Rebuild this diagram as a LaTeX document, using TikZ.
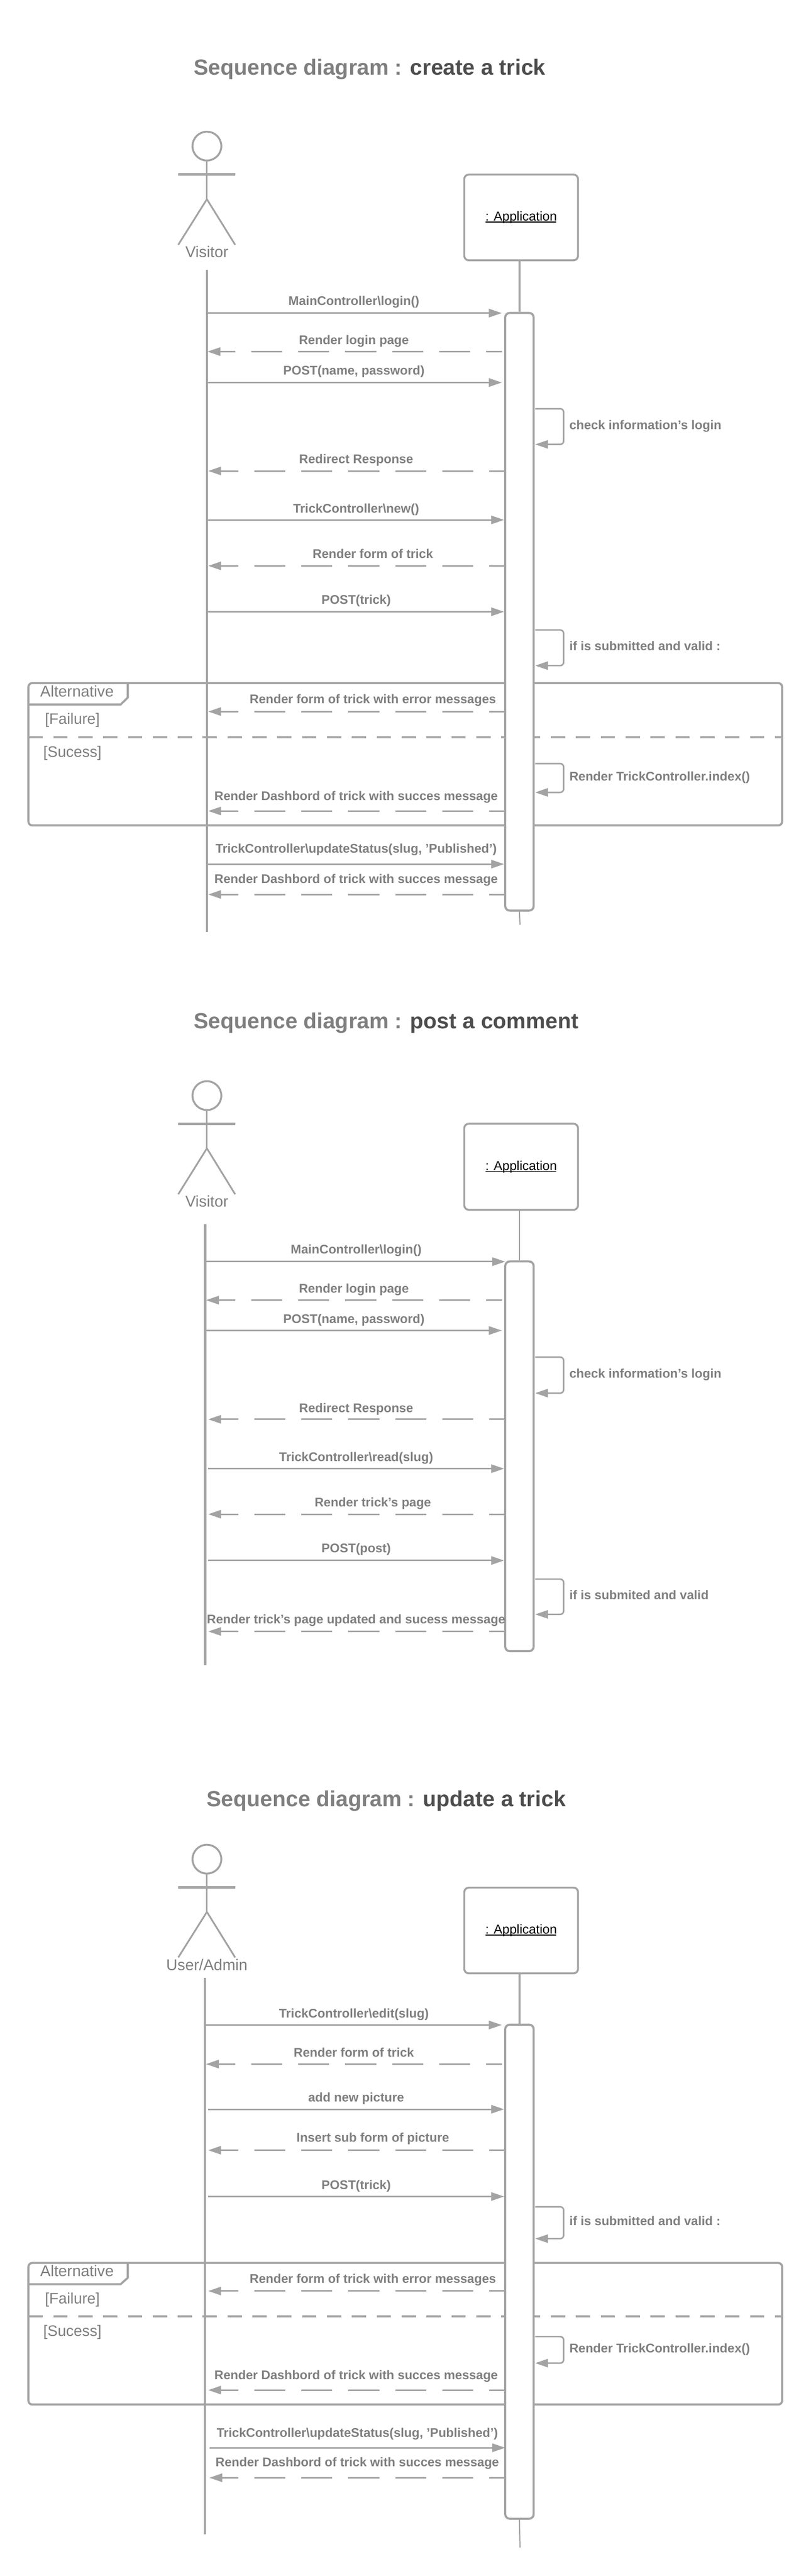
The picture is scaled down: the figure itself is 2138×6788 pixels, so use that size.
\documentclass[tikz,border=0pt]{standalone}
\usepackage{fontspec}
\setmainfont{Liberation Sans}
\usetikzlibrary{arrows.meta}
\definecolor{ln}{HTML}{A3A3A3}
\definecolor{tx}{HTML}{7F7F7F}
\definecolor{tx2}{HTML}{4D4D4D}
\newcommand\appname{\raisebox{2pt}{\makebox[0pt][l]{\rule[-4.5pt]{186pt}{2.5pt}}: Application}}
\tikzset{
  base/.style={draw=ln,line width=4pt},
  arr/.style={base,-{Triangle[length=34pt,width=22pt]}},
  call/.style={arr},
  reply/.style={arr,dash pattern=on 82pt off 42pt,dash phase=41pt},
  selfcall/.style={arr,rounded corners=9pt},
  lifeline/.style={draw=ln,line width=5.5pt},
  thinlife/.style={draw=ln,line width=3pt},
  limb/.style={draw=ln,line width=4.5pt},
  arms/.style={draw=ln,line width=7pt},
  head/.style={circle,draw=ln,line width=5pt,fill=white,minimum size=76pt,inner sep=0pt},
  appbox/.style={rectangle,rounded corners=12pt,draw=ln,line width=5pt,fill=white,minimum width=300pt,minimum height=226pt,inner sep=0pt,text=black,font=\fontsize{34}{38}\selectfont},
  activation/.style={rectangle,rounded corners=12pt,draw=ln,line width=5.5pt,fill=white,minimum width=75pt,inner sep=0pt},
  msgtext/.style={inner sep=0pt,yshift=-3pt,text=tx,font=\fontsize{33.2}{38}\selectfont\bfseries,execute at begin node={\vphantom{Ag}}},
  plaintext/.style={inner sep=0pt,yshift=-3pt,text=tx,font=\fontsize{41}{45}\selectfont,execute at begin node={\vphantom{Ag}}},
  titletext/.style={inner sep=0pt,yshift=-3pt,anchor=west,text=tx,font=\fontsize{57.8}{62}\selectfont\bfseries},
  framebox/.style={draw=ln,line width=5.5pt,rounded corners=10pt},
  tabline/.style={draw=ln,line width=5.5pt},
  divider/.style={draw=ln,line width=5.5pt,dash pattern=on 37.6pt off 28pt},
}
% name, y, x from, x to, style, label x, label y, text
\newcommand\msgline[8]{%
  \coordinate (#1a) at (#3,#2);
  \coordinate (#1b) at (#4,#2);
  \draw[#5] (#1a) -- (#1b);
  \node[msgtext] (#1t) at (#6,#7) {#8};
}
% name, y top, y bottom, label y, text
\newcommand\selfline[5]{%
  \coordinate (#1a) at (1411,#2);
  \coordinate (#1m) at (1486,#2);
  \coordinate (#1b) at (1411,#3);
  \draw[selfcall] (#1a) -- (#1m) |- (#1b);
  \node[msgtext,anchor=west] (#1t) at (1501,#4) {#5};
}
% prefix, head y, arms y, hip y, foot y, label y, label
\newcommand\actorfig[7]{%
  \coordinate (#1la) at (470,#3);
  \coordinate (#1ra) at (620,#3);
  \coordinate (#1hip) at (545.5,#4);
  \coordinate (#1lf) at (470,#5);
  \coordinate (#1rf) at (620,#5);
  \node[head] (#1head) at (545.5,#2) {};
  \draw[limb] (#1head.south) -- (#1hip);
  \draw[limb] (#1lf) -- (#1hip) -- (#1rf);
  \draw[arms] (#1la) -- (#1ra);
  \node[plaintext] (#1name) at (545.5,#6) {#7};
}
% prefix, top y, chamfer y, tab bottom y, divider y, bottom y, alt y, fail y
\newcommand\altframe[8]{%
  \node[inner sep=0pt,minimum size=0pt] (#1tl) at (75,#2) {};
  \node[inner sep=0pt,minimum size=0pt] (#1br) at (2062,#6) {};
  \coordinate (#1t1) at (337,#2);
  \coordinate (#1t2) at (337,#3);
  \coordinate (#1t3) at (318,#4);
  \coordinate (#1t4) at (75,#4);
  \coordinate (#1d1) at (75,#5);
  \coordinate (#1d2) at (2062,#5);
  \draw[framebox] (#1tl.center) rectangle (#1br.center);
  \draw[tabline] (#1t1) -- (#1t2) -- (#1t3) -- (#1t4);
  \draw[divider] (#1d1) -- (#1d2);
  \node[plaintext] (#1alt) at (203,#7) {Alternative};
  \node[plaintext,font=\fontsize{40}{44}\selectfont] (#1fail) at (191,#8) {[Failure]};
}
\begin{document}
\begin{tikzpicture}[x=1pt,y=-1pt]
\useasboundingbox (0,0) rectangle (2138,6788);
\fill[white] (0,0) rectangle (2138,6788);

%% ---------- diagram 1
\node[titletext] (t1) at (511,180) {Sequence diagram : \textcolor{tx2}{create a trick}};
\altframe{f1}{1800}{1838}{1856.5}{1942.5}{2175}{1823}{1895}
\node[plaintext,font=\fontsize{40}{44}\selectfont] (f1suc) at (191,1981) {[Sucess]};
\actorfig{a1}{385}{459}{525}{645}{665}{Visitor}
\node[appbox] (app1) at (1374,573) {\appname};
\coordinate (v1top) at (545.5,712);
\coordinate (v1bot) at (545.5,2456);
\draw[lifeline] (v1top) -- (v1bot);
\coordinate (l1end) at (1371,2437);
\node[activation,minimum height=1575pt] (act1) at (1369.5,1612) {};
\draw[lifeline] (app1.south -| act1.north) -- (act1.north);
\draw[thinlife] (act1.south) -- (l1end);
\msgline{m11}{825}{545.5}{1323}{call}{933}{793}{MainController\textbackslash login()}
\msgline{m12}{926.5}{1323}{547}{reply}{933}{896}{Render login page}
\msgline{m13}{1008}{545.5}{1323}{call}{933}{976}{POST(name, password)}
\selfline{s11}{1077}{1171}{1120}{check information's login}
\msgline{m14}{1241}{1331}{549}{reply}{939}{1209}{Redirect Response}
\msgline{m15}{1370}{548}{1329}{call}{939}{1340}{TrickController\textbackslash new()}
\msgline{m16}{1491}{1331}{549}{reply}{983}{1459}{Render form of trick}
\msgline{m17}{1612}{548}{1329}{call}{939}{1580}{POST(trick)}
\selfline{s12}{1660}{1754}{1703}{if is submitted and valid :}
\msgline{m18}{1875}{1331}{549}{reply}{983}{1842}{Render form of trick with error messages}
\selfline{s13}{2012}{2088}{2046}{Render TrickController.index()}
\msgline{m19}{2137}{1331}{549}{reply}{939}{2097}{Render Dashbord of trick with succes message}
\msgline{m110}{2277}{545.5}{1329}{call}{939}{2236}{TrickController\textbackslash updateStatus(slug, 'Published')}
\msgline{m111}{2357}{1331}{549}{reply}{939}{2316}{Render Dashbord of trick with succes message}

%% ---------- diagram 2
\node[titletext] (t2) at (511,2692) {Sequence diagram : \textcolor{tx2}{post a comment}};
\actorfig{a2}{2887}{2961}{3026}{3147}{3166}{Visitor}
\node[appbox,minimum height=227pt] (app2) at (1374,3074.5) {\appname};
\coordinate (v2top) at (541,3225);
\coordinate (v2bot) at (541,4388);
\draw[lifeline] (v2top) -- (v2bot);
\node[activation,minimum height=1027pt] (act2) at (1369.5,3837.5) {};
\draw[thinlife] (app2.south -| act2.north) -- (act2.north);
\msgline{m21}{3324.5}{541}{1332}{call}{939}{3292}{MainController\textbackslash login()}
\msgline{m22}{3426}{1323}{543}{reply}{933}{3395}{Render login page}
\msgline{m23}{3506}{541}{1323}{call}{933}{3476}{POST(name, password)}
\selfline{s21}{3576}{3671}{3620}{check information's login}
\msgline{m24}{3740}{1331}{549}{reply}{939}{3710}{Redirect Response}
\msgline{m25}{3870}{549}{1329}{call}{939}{3839}{TrickController\textbackslash read(slug)}
\msgline{m26}{3990}{1331}{549}{reply}{983}{3959}{Render trick's page}
\msgline{m27}{4112}{549}{1329}{call}{939}{4079}{POST(post)}
\selfline{s22}{4161}{4254}{4203}{if is submited and valid}
\msgline{m28}{4299}{1331}{549}{reply}{939}{4267}{Render trick's page updated and sucess message}

%% ---------- diagram 3
\node[titletext] (t3) at (545,4742) {Sequence diagram : \textcolor{tx2}{update a trick}};
\altframe{f3}{5963}{6002}{6019}{6104}{6336}{5985}{6057}
\node[plaintext,font=\fontsize{40}{44}\selectfont] (f3suc) at (191,6143) {[Sucess]};
\actorfig{a3}{4899}{4973}{5038}{5158}{5178}{User/Admin}
\node[appbox] (app3) at (1374,5087) {\appname};
\coordinate (v3top) at (540,5212);
\coordinate (v3bot) at (540,6678);
\draw[lifeline] (v3top) -- (v3bot);
\coordinate (l3end) at (1371,6713);
\node[activation,minimum height=1302pt] (act3) at (1369.5,5986) {};
\draw[lifeline] (app3.south -| act3.north) -- (act3.north);
\draw[thinlife] (act3.south) -- (l3end);
\msgline{m31}{5336}{540}{1323}{call}{933}{5305}{TrickController\textbackslash edit(slug)}
\msgline{m32}{5439}{1323}{543}{reply}{933}{5408}{Render form of trick}
\msgline{m33}{5558}{549}{1329}{call}{939}{5527}{add new picture}
\msgline{m34}{5666}{1331}{549}{reply}{983}{5633}{Insert sub form of picture}
\msgline{m35}{5788}{549}{1329}{call}{939}{5757}{POST(trick)}
\selfline{s31}{5815}{5899}{5852}{if is submitted and valid :}
\msgline{m36}{6037}{1331}{549}{reply}{983}{6005}{Render form of trick with error messages}
\selfline{s32}{6157}{6227}{6188}{Render TrickController.index()}
\msgline{m37}{6298}{1331}{549}{reply}{939}{6258}{Render Dashbord of trick with succes message}
\msgline{m38}{6450}{552}{1332}{call}{942}{6410}{TrickController\textbackslash updateStatus(slug, 'Published')}
\msgline{m39}{6529}{1331}{552}{reply}{942}{6488}{Render Dashbord of trick with succes message}
\end{tikzpicture}
\end{document}
